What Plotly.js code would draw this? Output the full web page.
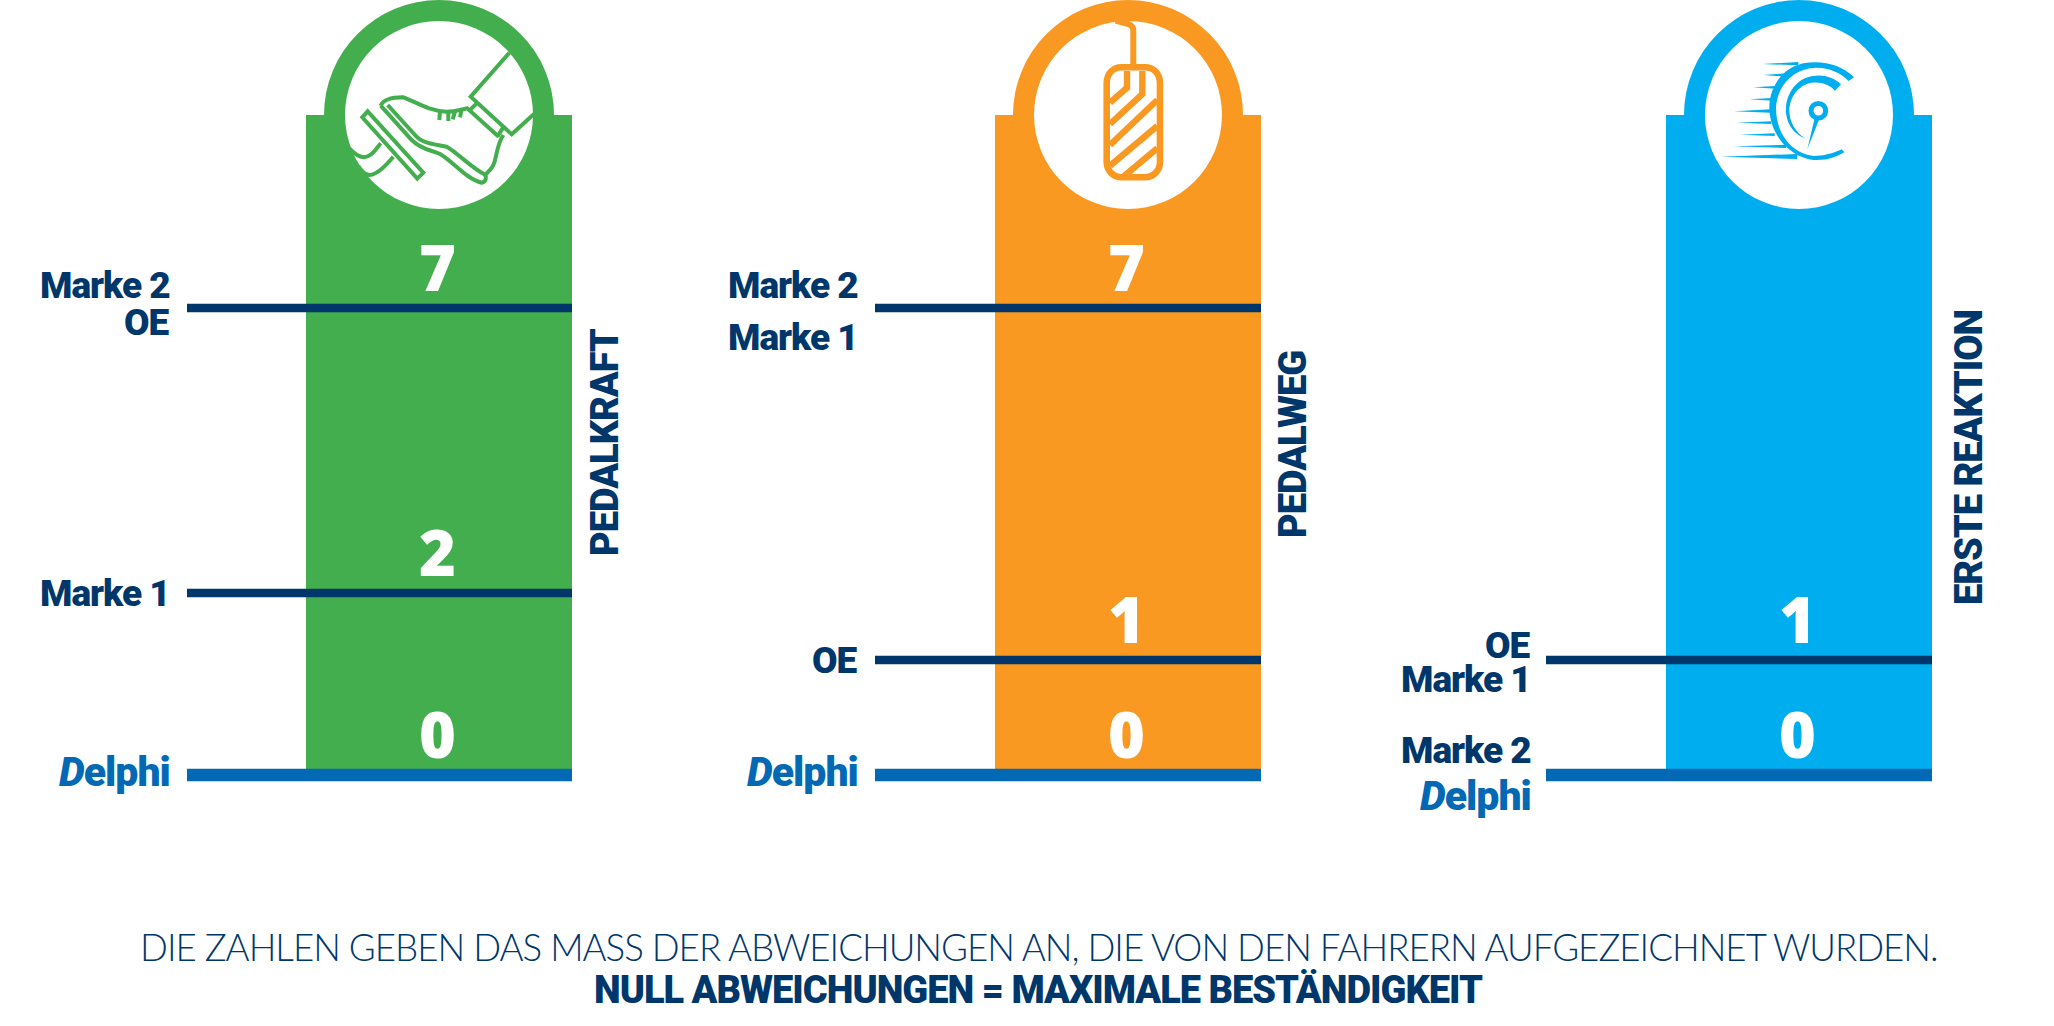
<!DOCTYPE html>
<html>
<head>
<meta charset="utf-8">
<script src="https://cdn.plot.ly/plotly-3.0.1.min.js"></script>
<style>html,body{margin:0;padding:0;background:#fff;overflow:hidden}
.annotation-text{letter-spacing:-1px}</style>
</head>
<body>
<div id="chart" style="width:2054px;height:1026px"></div>
<script>
// ---- data ----
const brands = ['Delphi', 'Marke 1', 'Marke 2', 'OE'];
const pedalkraft = [0, 2, 7, 7];
const pedalweg = [0, 7, 7, 1];
const ersteReaktion = [0, 1, 0, 1];
const panelNames = ['PEDALKRAFT', 'PEDALWEG', 'ERSTE REAKTION'];
const footerLine1 = 'DIE ZAHLEN GEBEN DAS MASS DER ABWEICHUNGEN AN, DIE VON DEN FAHRERN AUFGEZEICHNET WURDEN.';
const footerLine2 = 'NULL ABWEICHUNGEN = MAXIMALE BESTÄNDIGKEIT';
const deviationLevels = [0, 1, 2, 7];

// ---- drawn scale: the infographic's scale is not linear, so each level has its own height ----
const levelHeights = [0, 115, 182, 467];
const bodyHeight = 660;
const scaleY = v => levelHeights[deviationLevels.indexOf(v)];

// ---- geometry and style ----
const W = 2054, H = 1026, baseline = 775;
const NAVY = '#00376b', DELPHI = '#0469b4';
const panels = [
  {values: pedalkraft,    left: 187,  right: 572,  barW: 266, color: '#43ae4d', titleX: 605,  titleY: 442, cx: 439, gap: 15,
   shift: {'Marke 2': -23, 'OE': 14, 'Marke 1': 0, 'Delphi': -3}},
  {values: pedalweg,      left: 875,  right: 1261, barW: 266, color: '#fa9922', titleX: 1293, titleY: 445, cx: 1128, gap: 15,
   shift: {'Marke 2': -23, 'Marke 1': 29, 'OE': 0, 'Delphi': -3}},
  {values: ersteReaktion, left: 1546, right: 1932, barW: 266, color: '#00aeef', titleX: 1969, titleY: 458, cx: 1799, gap: 13,
   shift: {'OE': -15, 'Marke 1': 19, 'Marke 2': -25, 'Delphi': 21}}
];
const LABEL_FONT = 'Roboto,"Liberation Sans",sans-serif';
const VALUE_FONT = '"Open Sans","Liberation Sans",sans-serif';

const traces = [], annotations = [], shapes = [];
const layout = {
  width: W, height: H, autosize: false,
  margin: {l: 0, r: 0, t: 0, b: 0, pad: 0},
  paper_bgcolor: '#fff', plot_bgcolor: 'rgba(0,0,0,0)',
  showlegend: false, hovermode: false, barmode: 'overlay',
  yaxis: {range: [baseline - H, baseline], domain: [0, 1], visible: false, fixedrange: true},
  xaxis4: {range: [0, W], domain: [0, 1], visible: false, fixedrange: true, anchor: 'y4'},
  yaxis4: {range: [H, 0], domain: [0, 1], visible: false, fixedrange: true, anchor: 'x4'}
};

panels.forEach((p, i) => {
  const xa = i === 0 ? 'x' : 'x' + (i + 1);
  const key = i === 0 ? 'xaxis' : 'xaxis' + (i + 1);
  const xMin = -0.5 - (p.right - p.left - p.barW) / p.barW;
  layout[key] = {range: [xMin, 0.5], domain: [p.left / W, p.right / W], visible: false, fixedrange: true, anchor: 'y'};

  traces.push({type: 'bar', x: [0], y: [bodyHeight], width: [1], xaxis: xa, yaxis: 'y',
    marker: {color: p.color, line: {width: 0}}, hoverinfo: 'skip'});

  const levels = [...new Set(p.values)].sort((a, b) => b - a);
  levels.forEach(v => {
    const hasDelphi = brands.some((b, j) => b === 'Delphi' && p.values[j] === v);
    traces.push({type: 'scatter', mode: 'lines', x: [xMin, 0.5], y: [scaleY(v), scaleY(v)], xaxis: xa, yaxis: 'y',
      line: {color: hasDelphi ? DELPHI : NAVY, width: hasDelphi ? 12.7 : 8.7}, hoverinfo: 'skip', cliponaxis: false});
    annotations.push({xref: xa, yref: 'y', x: 0, y: scaleY(v), yshift: -3, xshift: -2, text: String(v), showarrow: false,
      xanchor: 'center', yanchor: 'bottom', font: {family: VALUE_FONT, size: 63, color: '#fff', weight: 800}});
  });

  brands.forEach((b, j) => {
    const isD = b === 'Delphi';
    annotations.push({xref: xa, yref: 'y', x: xMin, y: scaleY(p.values[j]), xshift: -p.gap, yshift: -p.shift[b],
      text: isD ? '<i>D</i>elphi' : b, showarrow: false, xanchor: 'right', yanchor: 'middle',
      font: {family: LABEL_FONT, size: isD ? 41 : 37, color: isD ? DELPHI : NAVY, weight: 900}});
  });

  annotations.push({xref: 'x4', yref: 'y4', x: p.titleX, y: p.titleY, text: panelNames[i], textangle: -90,
    showarrow: false, xanchor: 'center', yanchor: 'middle', font: {family: LABEL_FONT, size: 38, color: NAVY, weight: 900}});

  // badge on top of each column
  shapes.push({type: 'circle', xref: 'x4', yref: 'y4', x0: p.cx - 115, x1: p.cx + 115, y0: 0, y1: 230,
    fillcolor: p.color, line: {width: 0}, layer: 'above'});
  shapes.push({type: 'circle', xref: 'x4', yref: 'y4', x0: p.cx - 94, x1: p.cx + 94, y0: 21, y1: 209,
    fillcolor: '#fff', line: {width: 0}, layer: 'above'});
});

// anchors the page-wide pixel axes used by pictograms and footer
traces.push({type: 'scatter', mode: 'markers', x: [0], y: [0], xaxis: 'x4', yaxis: 'y4', marker: {opacity: 0, size: 1}, hoverinfo: 'skip'});

// ---- pictograms, traced at 3x zoom ----
const tf = (d, ox, oy) => d.replace(/(-?[\d.]+),(-?[\d.]+)/g, (m, a, b) => (ox + a / 3).toFixed(1) + ',' + (oy + b / 3).toFixed(1));
const stroke = (d, color, w, ox, oy) => shapes.push({type: 'path', xref: 'x4', yref: 'y4', path: tf(d, ox, oy),
  fillcolor: 'rgba(0,0,0,0)', line: {color, width: w}, layer: 'above'});
const fill = (d, color, ox, oy) => shapes.push({type: 'path', xref: 'x4', yref: 'y4', path: tf(d, ox, oy),
  fillcolor: color, line: {width: 0}, layer: 'above'});

// foot on pedal
const G = panels[0].color;
[
  'M 83,214 L 250,398 L 232,416 L 67,232 Z',
  'M 122,310 C 105,330 95,350 72,352 C 55,350 40,338 28,325',
  'M 160,350 C 135,380 110,405 88,405 C 75,403 65,395 55,378',
  'M 122,197 C 128,182 150,172 190,172 C 230,187 265,212 320,215 C 345,215 365,208 382,205 L 476,290',
  'M 122,197 L 215,300 C 245,330 275,330 300,342 C 340,365 380,418 425,428 C 440,425 440,410 432,400',
  'M 143,195 L 225,285 C 245,310 280,312 320,320 C 355,340 395,385 437,405',
  'M 490,285 C 470,315 470,350 462,370 C 458,385 445,395 435,405',
  'M 508,38 L 392,170 L 515,283 L 582,222',
  'M 410,190 L 385,215', 'M 490,262 L 472,290',
  'M 300,215 L 298,240', 'M 325,215 L 325,243', 'M 345,215 L 338,238', 'M 365,205 L 360,232'
].forEach(d => stroke(d, G, 4, 340, 40));

// pedal
const O = panels[1].color;
[
  'M 470,250 C 470,220 490,202 515,202 L 585,202 C 610,202 630,220 630,250 L 630,485 C 630,512 610,532 585,532 L 515,532 C 490,532 470,512 470,485 Z'
].forEach(d => stroke(d, O, 6.6, 950, 0));
[
  'M 531,213 L 531,263 L 480,308', 'M 577,213 L 577,282 L 480,372', 'M 622,300 L 480,435',
  'M 622,378 L 480,497', 'M 622,445 L 520,530'
].forEach(d => stroke(d, O, 6.4, 950, 0));
stroke('M 550,195 L 550,90 C 550,80 543,75 535,72 L 497,62', O, 6, 950, 0);

// gauge
const B = panels[2].color;
const gauge = [
  'M 432,82 C 395,45 340,30 280,40 C 215,55 180,110 178,170 C 178,250 235,320 310,330 C 350,332 380,320 403,307 L 395,298 C 370,310 340,318 310,318 C 240,310 198,245 198,175 C 200,115 240,65 300,55 C 345,48 390,65 415,93 Z',
  'M 393,103 C 365,75 320,70 285,85 C 240,105 225,155 228,190 C 232,225 255,255 285,265 C 255,245 238,215 238,180 C 240,140 265,105 305,98 C 335,95 360,105 375,122 Z',
  'M 315,200 L 292,298 L 330,202 Z',
  'M 157,42 L 265,36 L 265,46 Z', 'M 160,75 L 228,70 L 228,80 Z', 'M 130,112 L 197,108 L 197,116 Z',
  'M 118,148 L 187,144 L 187,152 Z', 'M 72,184 L 182,178 L 182,188 Z', 'M 80,218 L 184,214 L 184,222 Z',
  'M 90,254 L 194,250 L 194,258 Z', 'M 70,289 L 228,284 L 228,294 Z', 'M 32,320 L 262,312 L 262,327 Z'
];
gauge.forEach(d => fill(d, B, 1710, 50));
shapes.push({type: 'circle', xref: 'x4', yref: 'y4', x0: 1811.0, x1: 1825.7, y0: 103.4, y1: 118.1,
  fillcolor: '#fff', line: {color: B, width: 5}, layer: 'above'});

// ---- footer ----
annotations.push({xref: 'x4', yref: 'y4', x: 1039, y: 947, text: footerLine1, showarrow: false, xanchor: 'center', yanchor: 'middle',
  font: {family: 'Lato,"Open Sans",sans-serif', size: 36.7, color: NAVY, weight: 300}});
annotations.push({xref: 'x4', yref: 'y4', x: 1038, y: 990, text: footerLine2, showarrow: false, xanchor: 'center', yanchor: 'middle',
  font: {family: LABEL_FONT, size: 38, color: NAVY, weight: 900}});

layout.annotations = annotations;
layout.shapes = shapes;
Plotly.newPlot('chart', traces, layout, {displayModeBar: false, staticPlot: true, responsive: false});
</script>
</body>
</html>
